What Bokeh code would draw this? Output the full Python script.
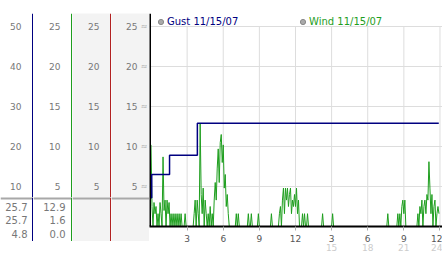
from bokeh.plotting import figure
from bokeh.layouts import row, column
from bokeh.models import (Range1d, FixedTicker, LinearAxis, Span, Legend, LegendItem,
                          Spacer, Label)
from bokeh.core.properties import value
from bokeh.embed import file_html
from bokeh.resources import INLINE

FONT = "DejaVu Sans"
FONT_V = value(FONT)

# ---------------- data ----------------
gust_hours = [0.0, 0.06, 1.54, 3.85, 23.9]
gust_mph = [3.6, 6.5, 8.9, 12.9, 12.9]

wind_step_minutes = 5
wind_mph = [
    10.2, 2.5, 0, 3.0, 1.6, 2.5, 0, 1.6, 0, 3.0, 1.6, 0,          # 0h
    8.7, 2.0, 3.3, 0, 3.3, 1.6, 3.0, 0, 1.6, 0, 1.6, 0,           # 1h
    1.6, 0, 1.6, 0, 1.6, 0, 1.6, 0, 0, 0, 1.6, 0,                 # 2h
    0, 0, 0, 0, 0, 0, 0, 1.6, 3.3, 0, 3.3, 1.6,                   # 3h
    0, 12.9, 4.0, 1.6, 4.8, 0, 3.3, 1.6, 0, 1.6, 0, 2.5,          # 4h
    0, 1.6, 0, 3.3, 5.5, 3.3, 7.3, 9.7, 5.5, 10.5, 11.5, 8.0,     # 5h
    10.2, 4.8, 6.5, 2.5, 4.0, 1.6, 0, 0, 0, 0, 0, 0,              # 6h
    0, 1.6, 0, 1.6, 0, 0, 0, 0, 0, 0, 0, 0,                       # 7h
    0, 1.6, 0, 0, 1.6, 0, 0, 0, 0, 0, 0, 1.6,                     # 8h
    0, 0, 0, 0, 0, 0, 0, 0, 0, 0, 0, 0,                           # 9h
    1.6, 0, 0, 0, 0, 0, 0, 0, 1.6, 2.5, 0, 3.3,                   # 10h
    4.8, 1.6, 4.8, 3.3, 4.8, 2.5, 4.0, 4.8, 1.6, 3.3, 2.5, 4.0,   # 11h
    2.5, 4.8, 1.6, 3.3, 0, 0, 0, 1.6, 0, 1.6, 0, 0,               # 12h
    1.6, 0, 0, 0, 0, 0, 0, 0, 0, 0, 0, 0,                         # 13h
    0, 0, 0, 1.6, 0, 0, 0, 0, 0, 0, 0, 0,                         # 14h
    0, 1.6, 0, 0, 0, 0, 0, 0, 0, 0, 0, 0,                         # 15h
    0, 0, 0, 0, 0, 0, 0, 0, 0, 0, 0, 0,                           # 16h
    0, 0, 0, 0, 0, 0, 0, 0, 0, 0, 0, 0,                           # 17h
    0, 0, 0, 0, 0, 0, 0, 0, 0, 0, 0, 0,                           # 18h
    0, 0, 0, 0, 0, 0, 0, 0, 1.6, 0, 0, 0,                         # 19h
    0, 0, 0, 0, 0, 0, 1.6, 0, 1.6, 0, 2.5, 3.3,                   # 20h
    1.6, 3.3, 0, 0, 0, 0, 0, 0, 0, 0, 0, 0,                       # 21h
    0, 0, 1.6, 0, 2.5, 1.6, 3.3, 0, 2.5, 3.3, 1.6, 4.0,           # 22h
    3.3, 8.1, 4.8, 1.6, 4.0, 0, 2.5, 3.3, 0, 1.6, 2.5, 1.6,       # 23h
]
wind_hours = [i * wind_step_minutes / 60 for i in range(len(wind_mph))]

speed_ticks = [5, 10, 15, 20, 25]
scale1_ticks = [10, 20, 30, 40, 50]
hour_ticks = [3, 6, 9, 12, 15, 18, 21, 24]
hour_labels_row1 = ["3", "6", "9", "12", "3", "6", "9", "12"]
hour_labels_row2 = ["", "", "", "", "15", "18", "21", "24"]
summary_rows = [1, 2, 3]
summary_col1 = ["25.7", "25.7", "4.8"]
summary_col2 = ["12.9", "1.6", "0.0"]
legend_labels = ["Gust 11/15/07", "Wind 11/15/07"]

# ---------------- styles ----------------
NAVY = "#000080"
GREEN = "#1e9e1e"
RED = "#b22222"
PANEL_GRAY = "#f3f3f3"
LABEL_GRAY = "#777777"
GRID = "#dddddd"

TOP_PAD = 13
TOP_H = 184
BOT_H = 44
BOT_PAD = 12
SPEED_RANGE = (3.625, 26.625)
SCALE1_RANGE = (SPEED_RANGE[0] * 2, SPEED_RANGE[1] * 2)


def bare(width, height, yr, bg):
    p = figure(width=width, height=height, x_range=Range1d(0, width), y_range=Range1d(*yr),
               toolbar_location=None, output_backend="svg", x_axis_location=None,
               y_axis_location=None, min_border_left=0, min_border_right=0,
               min_border_top=0, min_border_bottom=0)
    p.xgrid.visible = False
    p.ygrid.visible = False
    p.outline_line_color = None
    p.background_fill_color = bg
    p.border_fill_color = bg
    return p


def top_panel(width, ticks, yr, line_color, bg, marks=False):
    p = bare(width, TOP_H, yr, bg)
    p.text(x=[width] * len(ticks), y=ticks, text=[str(t) for t in ticks],
           text_align="right", text_baseline="middle", x_offset=-12, text_font=FONT_V,
           text_font_size="9px", text_color=LABEL_GRAY)
    if marks:
        p.text(x=[width] * len(ticks), y=ticks, text=["≈"] * len(ticks), text_align="right",
               text_baseline="middle", x_offset=-2, text_font=FONT_V,
               text_font_size="8px", text_color="#aaaaaa")
    if line_color:
        p.add_layout(Span(location=width, dimension="height", line_color=line_color,
                          line_width=3))
    return p


def bottom_panel(width, line_color, bg, texts=None, pad=6):
    p = bare(width, BOT_H, (3.59, 0.333), bg)
    if texts:
        p.text(x=[width] * len(texts), y=summary_rows, text=texts, text_align="right",
               text_baseline="middle", x_offset=-pad, text_font=FONT_V,
               text_font_size="10px", text_color=LABEL_GRAY)
    p.add_layout(Span(location=0.333, dimension="width", line_color="#a8a8a8",
                      line_width=4))
    if line_color:
        p.add_layout(Span(location=width, dimension="height", line_color=line_color,
                          line_width=3))
    return p


t1 = top_panel(33, scale1_ticks, SCALE1_RANGE, NAVY, "white")
t2 = top_panel(39, speed_ticks, SPEED_RANGE, GREEN, "white")
t3 = top_panel(39, speed_ticks, SPEED_RANGE, RED, PANEL_GRAY)
t4 = top_panel(38, speed_ticks, SPEED_RANGE, None, PANEL_GRAY, marks=True)
b1 = bottom_panel(33, NAVY, "white", summary_col1, pad=6)
b2 = bottom_panel(39, GREEN, "white", summary_col2, pad=7)
b3 = bottom_panel(39, RED, PANEL_GRAY)
b4 = bottom_panel(38, None, PANEL_GRAY)

# ---------------- main chart ----------------
p = figure(width=293, height=253, x_range=Range1d(-0.125, 24.21),
           y_range=Range1d(0, SPEED_RANGE[1]), toolbar_location=None,
           output_backend="svg", y_axis_location=None, min_border_left=0,
           min_border_right=0, min_border_top=13, min_border_bottom=27)
p.outline_line_color = None
p.xgrid.visible = False
p.ygrid.ticker = FixedTicker(ticks=speed_ticks)
p.ygrid.grid_line_color = GRID

p.segment(x0=hour_ticks, x1=hour_ticks, y0=[0] * len(hour_ticks),
          y1=[speed_ticks[-1]] * len(hour_ticks), line_color=GRID, line_width=1)

p.line(wind_hours, wind_mph, line_color=GREEN, line_width=1)
p.step(gust_hours, gust_mph, mode="after", line_color=NAVY, line_width=1.5)

ax1 = p.xaxis[0]
ax1.ticker = FixedTicker(ticks=hour_ticks)
ax1.major_label_overrides = dict(zip(hour_ticks, hour_labels_row1))
ax1.axis_line_color = "black"
ax1.axis_line_width = 2
ax1.major_tick_out = 4
ax1.major_tick_in = 0
ax1.major_tick_line_color = "#aaaaaa"
ax1.minor_tick_line_color = None
ax1.major_label_text_font = FONT
ax1.major_label_text_font_size = "9px"
ax1.major_label_text_color = "#555555"
ax1.major_label_standoff = 4

ax2 = LinearAxis(ticker=FixedTicker(ticks=hour_ticks),
                 major_label_overrides=dict(zip(hour_ticks, hour_labels_row2)))
ax2.axis_line_color = None
ax2.major_tick_line_color = None
ax2.minor_tick_line_color = None
ax2.major_tick_out = 0
ax2.major_tick_in = 0
ax2.major_label_text_font = FONT
ax2.major_label_text_font_size = "9px"
ax2.major_label_text_color = "#cccccc"
ax2.major_label_standoff = -1
p.add_layout(ax2, "below")

p.add_layout(Span(location=-0.125, dimension="height", line_color="black", line_width=3))

p.add_layout(Label(x=0.2, y=-0.75, text="Hours", text_font=FONT, text_font_size="9px",
                   text_color="#666666", text_baseline="middle", text_align="left"))

# legend swatches: grey circles; the renderers are muted (fully transparent in the
# plot area) so only their legend swatch is visible
marker_g = p.scatter(x=gust_hours[:1], y=gust_mph[:1], marker="circle", size=5,
                     fill_color="#aaaaaa", line_color="#888888", muted_alpha=0)
marker_w = p.scatter(x=wind_hours[:1], y=wind_mph[:1], marker="circle", size=5,
                     fill_color="#aaaaaa", line_color="#888888", muted_alpha=0)
marker_g.muted = True
marker_w.muted = True


def make_legend(label, renderer, color, loc):
    return Legend(items=[LegendItem(label=label, renderers=[renderer])], location=loc,
                  orientation="horizontal", label_text_color=color,
                  label_text_font=FONT, label_text_font_size="10px",
                  background_fill_alpha=0, border_line_color=None, padding=0, margin=0,
                  spacing=0, glyph_width=13, glyph_height=13, label_height=13,
                  label_standoff=0)


p.add_layout(make_legend(legend_labels[0], marker_g, NAVY, (5, 198)))
p.add_layout(make_legend(legend_labels[1], marker_w, GREEN, (147, 198)))

cols = []
for t, b, w in [(t1, b1, 33), (t2, b2, 39), (t3, b3, 39), (t4, b4, 38)]:
    cols.append(column(Spacer(width=w, height=TOP_PAD), t, b,
                       Spacer(width=w, height=BOT_PAD), spacing=0))

layout = row(*cols, p, spacing=0)

open("out.html", "w").write(file_html(layout, INLINE))
